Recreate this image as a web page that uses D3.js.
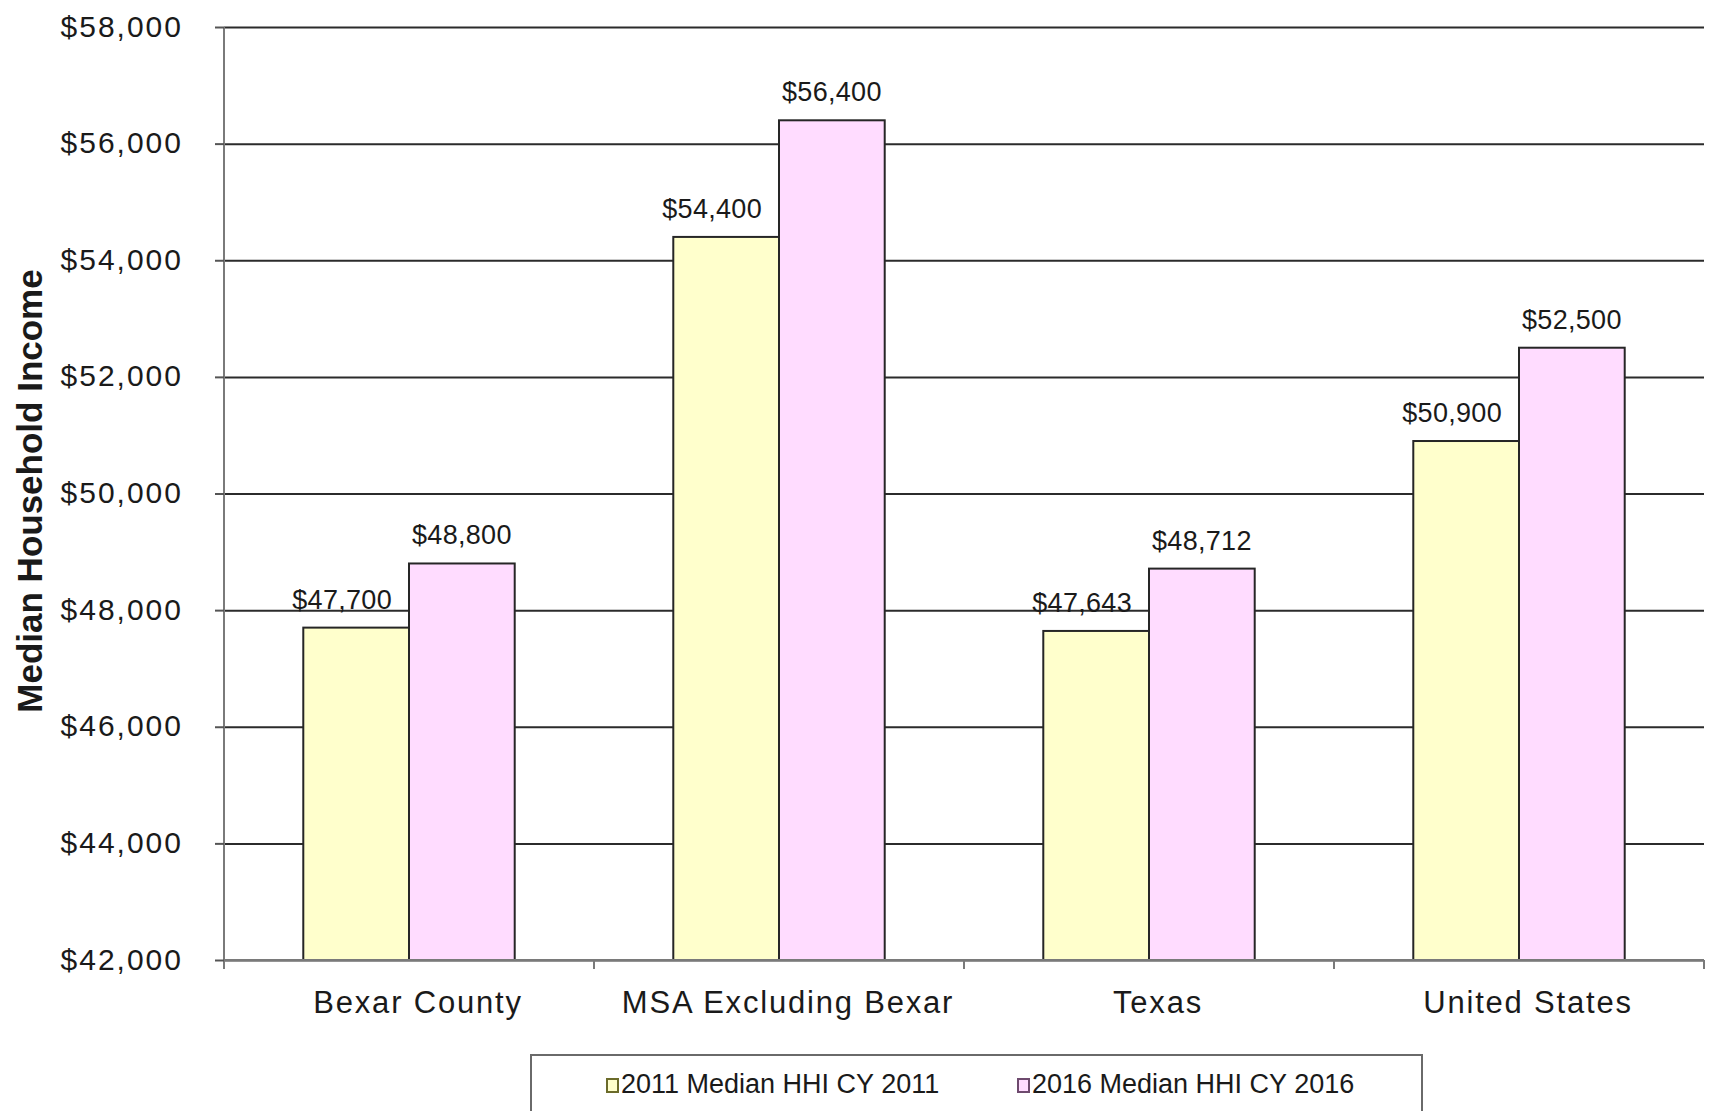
<!DOCTYPE html>
<html>
<head>
<meta charset="utf-8">
<script src="https://cdn.jsdelivr.net/npm/d3@7/dist/d3.min.js"></script>
<style>
  html, body { margin: 0; padding: 0; background: #ffffff; }
  svg { display: block; }
  text { font-family: "Liberation Sans", Arial, sans-serif; fill: #1a1a1a; }
</style>
</head>
<body>
<svg id="chart" width="1711" height="1111"></svg>
<script>
// Median household income by geography, 2011 vs 2016
const categories = ["Bexar County", "MSA Excluding Bexar", "Texas", "United States"];
const seriesNames = ["2011 Median HHI CY 2011", "2016 Median HHI CY 2016"];
const values2011 = [47700, 54400, 47643, 50900];
const values2016 = [48800, 56400, 48712, 52500];
const yTicks = [42000, 44000, 46000, 48000, 50000, 52000, 54000, 56000, 58000];
const fills = ["#ffffcc", "#ffdcff"];
const markerStrokes = ["#6b6b2a", "#6e4a6e"];

const rows = categories.map((c, i) => ({ category: c, values: [values2011[i], values2016[i]] }));

const svg = d3.select("#chart");
const plotLeft = 224, plotRight = 1704, plotTop = 27, plotBottom = 960;

const x0 = d3.scaleBand().domain(categories).range([plotLeft, plotRight]).padding(0);
const x1 = d3.scaleBand().domain(d3.range(seriesNames.length))
  .range([0, x0.bandwidth()]).paddingInner(0).paddingOuter(0.75);
const y = d3.scaleLinear().domain([42000, 58000]).range([plotBottom, plotTop]);

const money = d => "$" + d3.format(",")(d);

// Horizontal gridlines
const grid = svg.append("g").attr("transform", `translate(${plotLeft},0)`)
  .call(d3.axisLeft(y).tickValues(yTicks).tickSize(-(plotRight - plotLeft)).tickFormat(""));
grid.select(".domain").remove();
grid.selectAll("line").attr("stroke", "#2b2b2b").attr("stroke-width", 2);

// Bars
const groups = svg.append("g").selectAll("g").data(rows).join("g")
  .attr("transform", d => `translate(${x0(d.category)},0)`);

groups.selectAll("rect").data(d => d.values.map((v, i) => ({ v, i }))).join("rect")
  .attr("x", d => x1(d.i))
  .attr("y", d => y(d.v))
  .attr("width", x1.bandwidth())
  .attr("height", d => y(42000) - y(d.v))
  .attr("fill", d => fills[d.i])
  .attr("stroke", "#262626")
  .attr("stroke-width", 2);

// Value labels
groups.selectAll("text.value").data(d => d.values.map((v, i) => ({ v, i }))).join("text")
  .attr("class", "value")
  .attr("x", d => x1(d.i) + x1.bandwidth() / 2 + (d.i === 0 ? -14 : 0))
  .attr("y", d => y(d.v) - 19)
  .attr("text-anchor", "middle")
  .attr("font-size", 27)
  .attr("letter-spacing", 0.3)
  .text(d => money(d.v));

// Y axis
const yAxis = svg.append("g").attr("transform", `translate(${plotLeft},0)`)
  .call(d3.axisLeft(y).tickValues(yTicks).tickSize(9).tickPadding(32).tickFormat(money));
yAxis.select(".domain").attr("stroke", "#7a7a7a").attr("stroke-width", 2)
  .attr("d", `M0,${plotTop}V${plotBottom + 9}`);
yAxis.selectAll(".tick line").attr("stroke", "#555").attr("stroke-width", 2);
yAxis.selectAll(".tick text").attr("font-size", 30).attr("fill", "#1a1a1a")
  .attr("font-family", "\"Liberation Sans\", Arial, sans-serif")
  .attr("letter-spacing", 2).attr("dy", "0.3em");

// X axis with ticks at category boundaries
const xAxis = svg.append("g").attr("transform", `translate(0,${plotBottom})`)
  .call(d3.axisBottom(x0).tickSize(0).tickPadding(0));
xAxis.select(".domain").attr("stroke", "#7a7a7a").attr("stroke-width", 2)
  .attr("d", `M${plotLeft},0H${plotRight}`);
xAxis.selectAll(".tick text").attr("font-size", 31).attr("fill", "#1a1a1a")
  .attr("font-family", "\"Liberation Sans\", Arial, sans-serif")
  .attr("letter-spacing", 1.8)
  .attr("dx", 9).attr("y", 53).attr("dy", 0);
xAxis.selectAll("line.bound").data(categories).join("line")
  .attr("class", "bound")
  .attr("x1", d => x0(d) + x0.bandwidth()).attr("x2", d => x0(d) + x0.bandwidth())
  .attr("y1", 0).attr("y2", 9)
  .attr("stroke", "#7a7a7a").attr("stroke-width", 2);

// Y axis title
svg.append("text")
  .attr("transform", "translate(42,491) rotate(-90)")
  .attr("text-anchor", "middle")
  .attr("font-size", 35)
  .attr("font-weight", "bold")
  .attr("fill", "#111")
  .text("Median Household Income");

// Legend
const legend = svg.append("g");
legend.append("rect")
  .attr("x", 531).attr("y", 1055).attr("width", 891).attr("height", 80)
  .attr("fill", "#fff").attr("stroke", "#6a6a6a").attr("stroke-width", 2);
const legendX = [606, 1017];
const items = legend.selectAll("g.item").data(seriesNames).join("g")
  .attr("class", "item")
  .attr("transform", (d, i) => `translate(${legendX[i]},1093)`);
items.append("rect")
  .attr("x", 1).attr("y", -14).attr("width", 11).attr("height", 13)
  .attr("fill", (d, i) => fills[i]).attr("stroke", (d, i) => markerStrokes[i]).attr("stroke-width", 2);
items.append("text")
  .attr("x", 15).attr("y", 0)
  .attr("font-size", 27)
  .text(d => d);
</script>
</body>
</html>
